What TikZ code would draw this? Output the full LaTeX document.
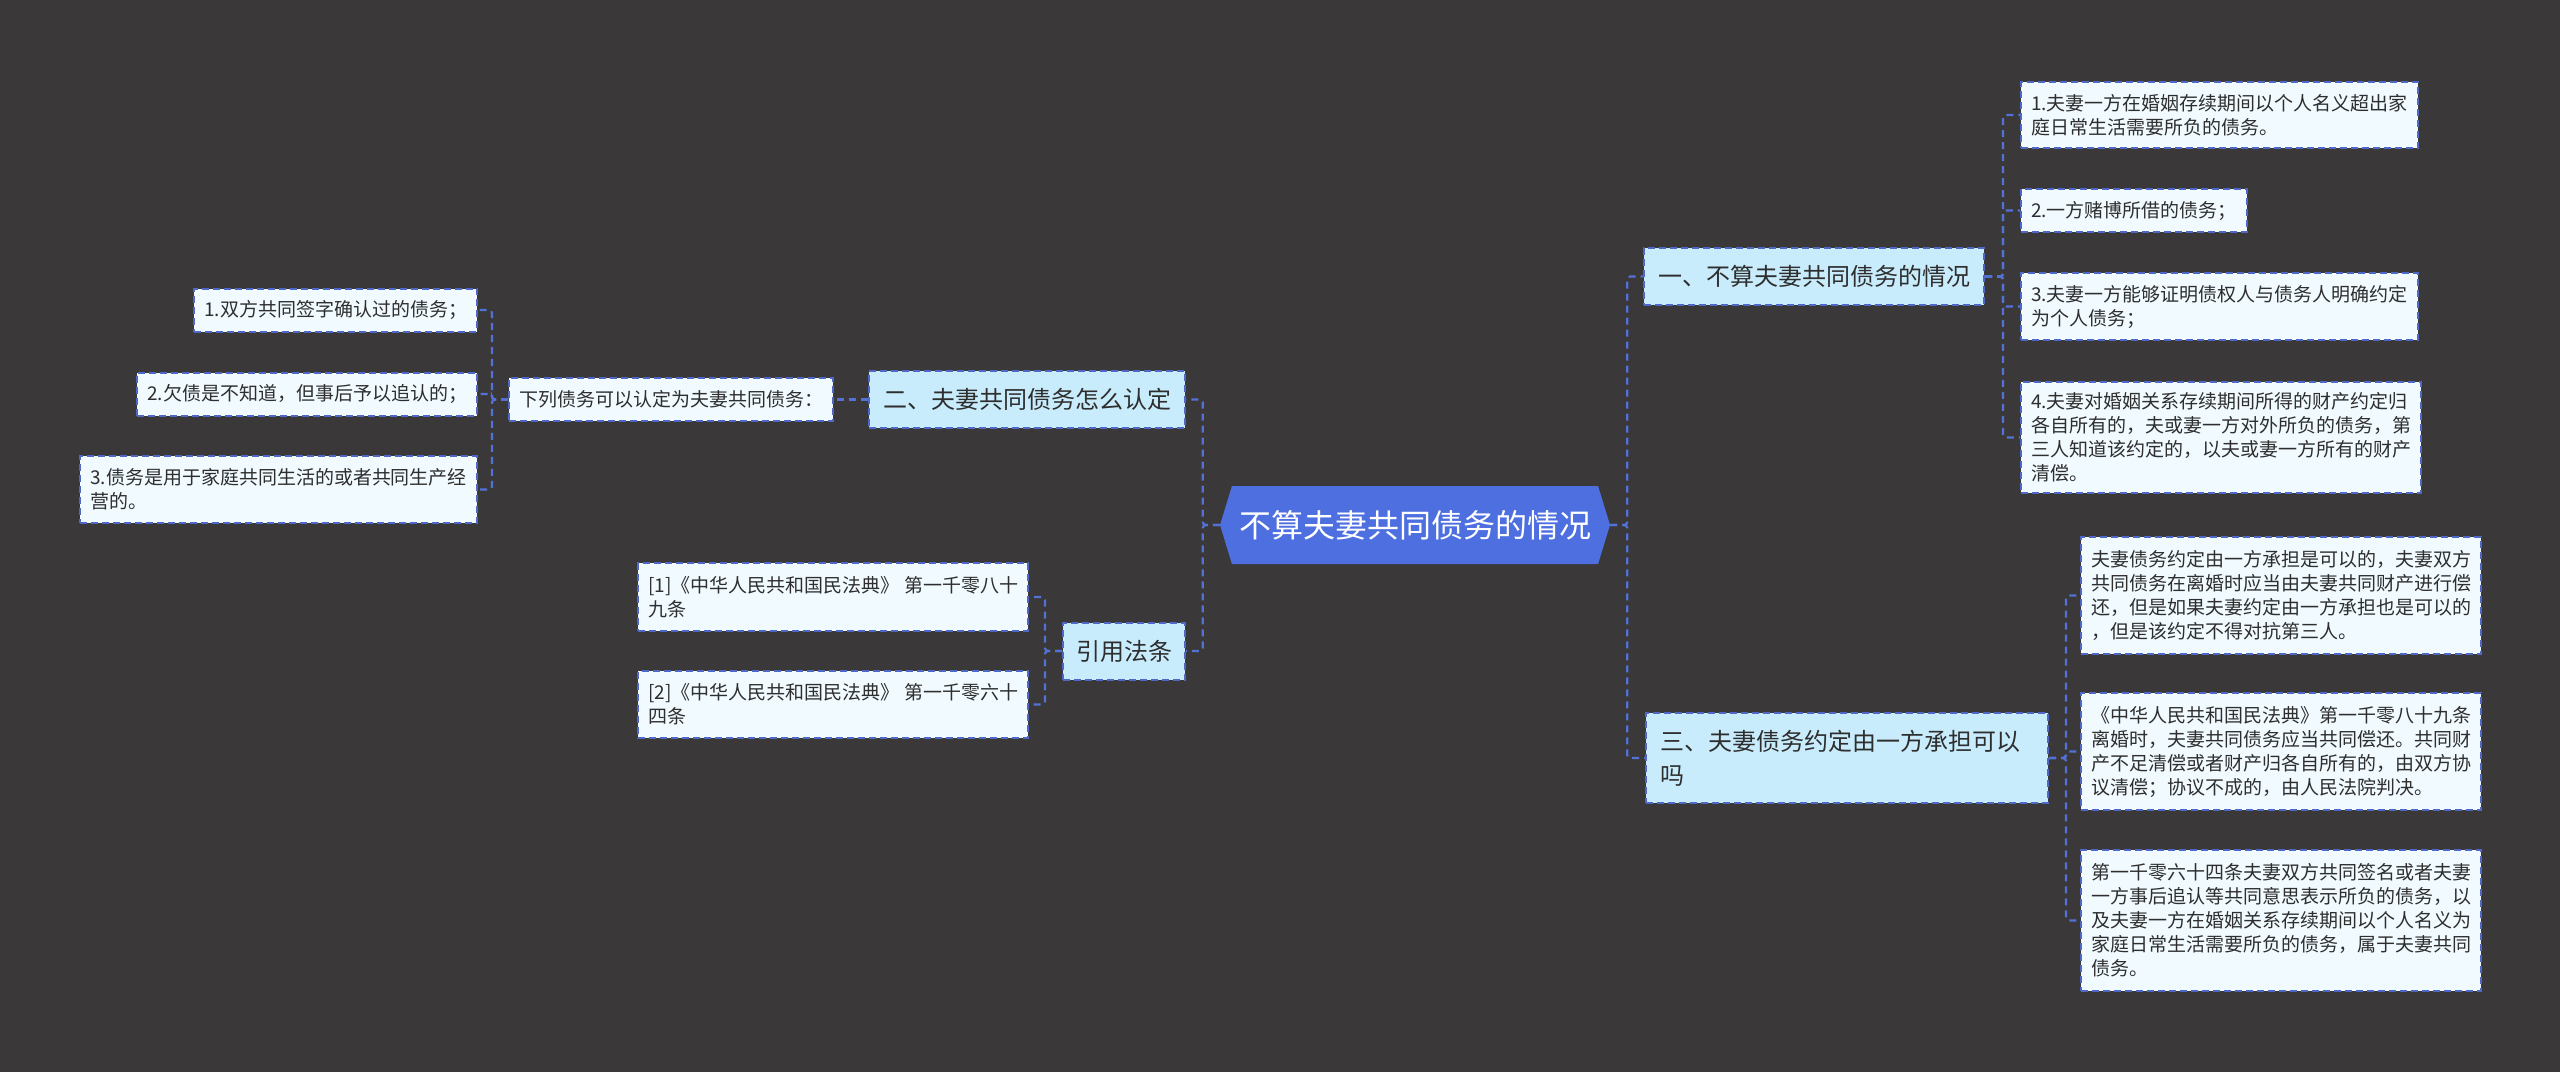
\documentclass[tikz,border=0pt]{standalone}
\usepackage{fontspec}
\setmainfont{Noto Sans CJK SC}
\newfontfamily\cjk{Noto Sans CJK SC}
\usepackage{xcolor}
\usepackage{tikz}
\usetikzlibrary{positioning,shapes.symbols}
\definecolor{mapbg}{HTML}{3A3839}
\definecolor{rootblue}{HTML}{4D6FE0}
\definecolor{topicfill}{HTML}{C9ECFC}
\definecolor{leaffill}{HTML}{F0FAFF}
\definecolor{edgeblue}{HTML}{4F68C6}
\definecolor{linkblue}{HTML}{5272D8}
\definecolor{textdark}{HTML}{2E2E2E}
\tikzset{
  rootnode/.style={shape=signal,signal to=west and east,signal pointer angle=146,fill=rootblue,text=white,
    minimum width=390pt,minimum height=78pt,inner sep=0pt,font=\cjk\fontsize{32}{38}\selectfont},
  topicbox/.style={draw=edgeblue,dash pattern=on 7pt off 4pt,line width=2pt,fill=topicfill,text=textdark,
    align=left,inner xsep=14pt,inner ysep=0pt,minimum height=57pt,font=\cjk\fontsize{24}{34}\selectfont},
  leafbox/.style={draw=edgeblue,dash pattern=on 7pt off 4pt,line width=2pt,fill=leaffill,text=textdark,
    align=left,inner xsep=10pt,inner ysep=0pt,minimum height=43pt,font=\cjk\fontsize{19}{24}\selectfont},
  link/.style={linkblue,line width=2.2pt,dash pattern=on 7pt off 5pt,rounded corners=3pt}
}
\begin{document}
\begin{tikzpicture}[x=1pt,y=-1pt]
\fill[mapbg] (0,0) rectangle (2560,1072);
\node[rootnode] (root) at (1415,525) {不算夫妻共同债务的情况};
% right side
\node[topicbox,anchor=west] (neg) at (1643,276.5) {一、不算夫妻共同债务的情况};
\node[topicbox,anchor=west,text width=374pt,minimum height=90pt] (share) at (1645,758) {三、夫妻债务约定由一方承担可以\\吗};
\node[leafbox,anchor=west,minimum height=66pt] (neg1) at (2020,115) {1.夫妻一方在婚姻存续期间以个人名义超出家\\庭日常生活需要所负的债务。};
\node[leafbox,anchor=west] (neg2) at (2020,210.5) {2.一方赌博所借的债务；};
\node[leafbox,anchor=west,minimum height=67pt] (neg3) at (2020,306.5) {3.夫妻一方能够证明债权人与债务人明确约定\\为个人债务；};
\node[leafbox,anchor=west,minimum height=111pt] (neg4) at (2020,437.5) {4.夫妻对婚姻关系存续期间所得的财产约定归\\各自所有的，夫或妻一方对外所负的债务，第\\三人知道该约定的，以夫或妻一方所有的财产\\清偿。};
\node[leafbox,anchor=west,minimum height=117pt] (share1) at (2080,595.5) {夫妻债务约定由一方承担是可以的，夫妻双方\\共同债务在离婚时应当由夫妻共同财产进行偿\\还，但是如果夫妻约定由一方承担也是可以的\\，但是该约定不得对抗第三人。};
\node[leafbox,anchor=west,minimum height=117pt] (share2) at (2080,751.5) {《中华人民共和国民法典》第一千零八十九条\\离婚时，夫妻共同债务应当共同偿还。共同财\\产不足清偿或者财产归各自所有的，由双方协\\议清偿；协议不成的，由人民法院判决。};
\node[leafbox,anchor=west,minimum height=141pt] (share3) at (2080,920.5) {第一千零六十四条夫妻双方共同签名或者夫妻\\一方事后追认等共同意思表示所负的债务，以\\及夫妻一方在婚姻关系存续期间以个人名义为\\家庭日常生活需要所负的债务，属于夫妻共同\\债务。};
% left side
\node[topicbox,anchor=east] (joint) at (1186,399.5) {二、夫妻共同债务怎么认定};
\node[topicbox,anchor=east,inner xsep=13pt] (law) at (1186,651) {引用法条};
\node[leafbox,anchor=east] (list) at (834,399.5) {下列债务可以认定为夫妻共同债务：};
\node[leafbox,anchor=east] (joint1) at (478,310) {1.双方共同签字确认过的债务；};
\node[leafbox,anchor=east] (joint2) at (478,394) {2.欠债是不知道，但事后予以追认的；};
\node[leafbox,anchor=east,minimum height=67pt] (joint3) at (478,489.5) {3.债务是用于家庭共同生活的或者共同生产经\\营的。};
\node[leafbox,anchor=east,minimum height=68pt] (law1) at (1029,597) {[1]《中华人民共和国民法典》 第一千零八十\\九条};
\node[leafbox,anchor=east,minimum height=67pt] (law2) at (1029,704.5) {[2]《中华人民共和国民法典》 第一千零六十\\四条};
% connectors
\foreach \t in {neg,share}{\draw[link] (root.east) -- ++(17,0) |- (\t.west);}
\foreach \t in {joint,law}{\draw[link] (root.west) -- ++(-17,0) |- (\t.east);}
\foreach \t in {neg1,neg2,neg3,neg4}{\draw[link] (neg.east) -- ++(18,0) |- (\t.west);}
\foreach \t in {share1,share2,share3}{\draw[link] (share.east) -- ++(17,0) |- (\t.west);}
\draw[link] (joint.west) -- (list.east);
\foreach \t in {joint1,joint2,joint3}{\draw[link] (list.west) -- ++(-16,0) |- (\t.east);}
\foreach \t in {law1,law2}{\draw[link] (law.west) -- ++(-17,0) |- (\t.east);}
\end{tikzpicture}
\end{document}
